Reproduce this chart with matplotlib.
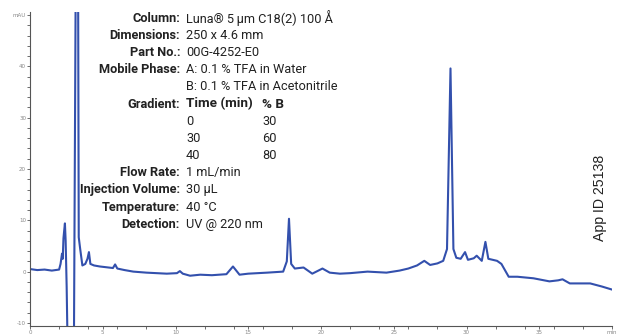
import matplotlib.pyplot as plt
from matplotlib.ticker import MultipleLocator

# chromatogram trace (retention time in min, absorbance in mAU)
time_min = [0, 0.5, 1.0, 1.5, 2.0, 2.1, 2.2, 2.25, 2.3, 2.35, 2.4, 2.45, 2.52, 2.58,
            2.8, 3.02, 3.25, 3.35, 3.45, 3.6, 3.8, 3.95, 4.05, 4.15, 4.4, 4.8, 5.4,
            5.7, 5.85, 6.0, 6.5, 7.1, 8.0, 9.4, 10.1, 10.3, 10.5, 11.0, 11.7, 12.5,
            13.5, 13.95, 14.4, 15.0, 16.3, 17.4, 17.65, 17.8, 17.95, 18.2, 18.8,
            19.4, 20.1, 20.6, 21.3, 22.0, 23.2, 24.5, 25.4, 26.0, 26.6, 27.1, 27.5,
            28.0, 28.4, 28.66, 28.9, 29.1, 29.3, 29.6, 29.9, 30.1, 30.5, 30.7, 31.05,
            31.3, 31.5, 32.1, 32.4, 32.9, 33.5, 34.6, 35.7, 36.3, 36.6, 37.1, 38.5,
            39.3, 40.0]
mau = [0.5, 0.3, 0.4, 0.2, 0.4, 1.5, 3.5, 2.5, 6.5, 8.0, 9.4, 6.0, -3.0, -14,
       -14, -14, 120, 6.7, 4.4, 1.2, 1.5, 2.5, 3.8, 1.5, 1.2, 1.0, 0.8,
       0.7, 1.4, 0.6, 0.3, 0.0, -0.2, -0.4, -0.3, 0.1, -0.4, -0.8, -0.6, -0.7,
       -0.5, 1.0, -0.6, -0.4, -0.2, 0.0, 2.0, 10.3, 1.5, 0.6, 0.8,
       -0.4, 0.6, -0.2, -0.4, -0.3, 0.0, -0.2, 0.2, 0.6, 1.2, 2.1, 1.3,
       1.6, 2.1, 4.4, 39.6, 4.4, 2.7, 2.5, 3.8, 2.3, 2.6, 3.1, 2.1,
       5.8, 2.5, 2.1, 1.5, -1.0, -1.0, -1.3, -1.9, -1.7, -1.5, -2.3, -2.3,
       -2.9, -3.5]

x_ticks = [0, 5, 10, 15, 20, 25, 30, 35, 40]
x_labels = ['0', '5', '10', '15', '20', '25', '30', '35', 'min']
y_ticks = [-10, 0, 10, 20, 30, 40, 50]
y_labels = ['-10', '0', '10', '20', '30', '40', 'mAU']

conditions = [
    ('Column:', 'Luna\u00ae 5\u2009\u00b5m C18(2) 100 \u00c5'),
    ('Dimensions:', '250 x 4.6 mm'),
    ('Part No.:', '00G-4252-E0'),
    ('Mobile Phase:', 'A: 0.1 % TFA in Water'),
    ('', 'B: 0.1 % TFA in Acetonitrile'),
]
gradient_time = ['0', '30', '40']
gradient_b = ['30', '60', '80']
conditions_after = [
    ('Flow Rate:', '1 mL/min'),
    ('Injection Volume:', '30 \u00b5L'),
    ('Temperature:', '40 \u00b0C'),
    ('Detection:', 'UV @ 220 nm'),
]

W, H = 618, 336
fig = plt.figure(figsize=(W / 100, H / 100), dpi=100)
ax = fig.add_axes([30 / W, 1 - 326 / H, 582 / W, 314 / H])

ax.plot(time_min, mau, color='#3350ad', lw=1.5, solid_joinstyle='round')
ax.set_xlim(0, 40)
ax.set_ylim(-10.6, 50.6)

for s in ['top', 'right']:
    ax.spines[s].set_visible(False)
for s in ['left', 'bottom']:
    ax.spines[s].set_color('#555555')
    ax.spines[s].set_linewidth(0.8)

ax.set_xticks(x_ticks)
ax.set_xticklabels(x_labels)
ax.set_yticks(y_ticks)
ax.set_yticklabels(y_labels)
ax.xaxis.set_minor_locator(MultipleLocator(2))
ax.yaxis.set_minor_locator(MultipleLocator(2))
ax.tick_params(which='both', length=2, width=0.6, color='#555555',
               labelsize=4, labelcolor='#888888', pad=0.8)

# condition block
narrow = ['Roboto', 'DejaVu Sans']
fs = 9.2
lab_x = 180 / W
val_x = 186 / W
col2_x = 262 / W
row_y = 18
step = 17.2


def fy(py):
    return 1 - py / H


y = row_y
for lab, val in conditions:
    if lab:
        fig.text(lab_x, fy(y), lab, ha='right', va='center', fontsize=fs,
                 fontweight='bold', family=narrow, color='#222222')
    fig.text(val_x, fy(y), val, ha='left', va='center', fontsize=fs,
             family=narrow, color='#222222')
    y += step

fig.text(lab_x, fy(y), 'Gradient:', ha='right', va='center', fontsize=fs,
         fontweight='bold', family=narrow, color='#222222')
fig.text(val_x, fy(y), 'Time (min)', ha='left', va='center', fontsize=fs + 0.5,
         fontweight='bold', family=narrow, color='#222222')
fig.text(col2_x, fy(y), '% B', ha='left', va='center', fontsize=fs + 0.5,
         fontweight='bold', family=narrow, color='#222222')
y += step
for t, b in zip(gradient_time, gradient_b):
    fig.text(val_x, fy(y), t, ha='left', va='center', fontsize=fs,
             family=narrow, color='#222222')
    fig.text(col2_x, fy(y), b, ha='left', va='center', fontsize=fs,
             family=narrow, color='#222222')
    y += step

for lab, val in conditions_after:
    fig.text(lab_x, fy(y), lab, ha='right', va='center', fontsize=fs,
             fontweight='bold', family=narrow, color='#222222')
    fig.text(val_x, fy(y), val, ha='left', va='center', fontsize=fs,
             family=narrow, color='#222222')
    y += step

fig.text(600 / W, fy(198), 'App ID 25138', rotation=90, ha='center', va='center',
         fontsize=10.2, family=['Liberation Sans', 'DejaVu Sans'], color='#222222')

fig.savefig('out.png', dpi=100)
